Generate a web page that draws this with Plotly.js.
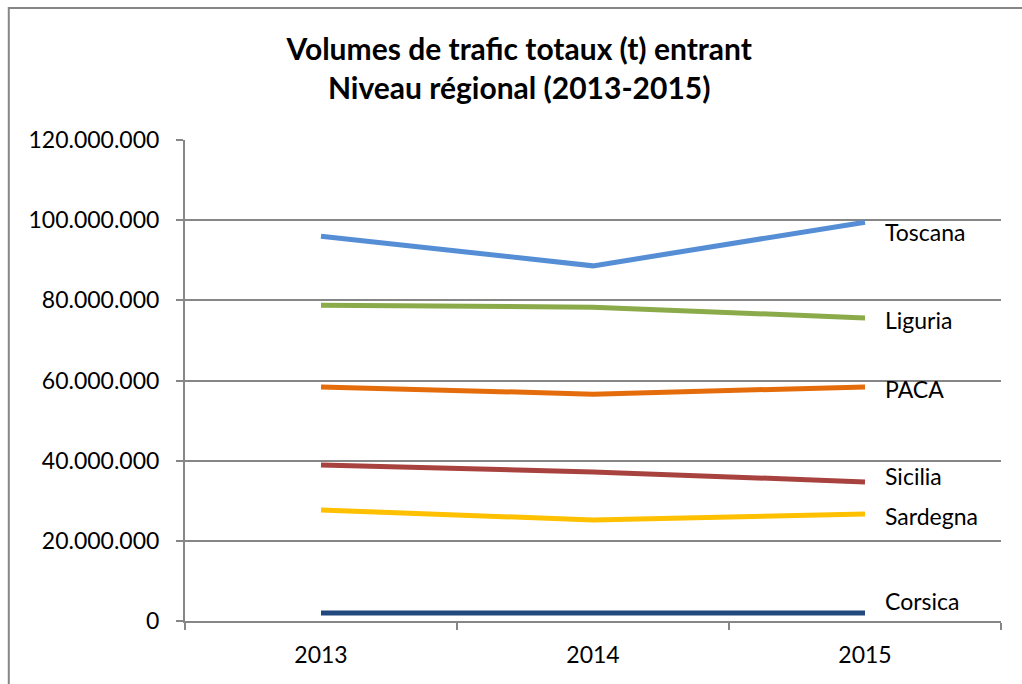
<!DOCTYPE html>
<html>
<head>
<meta charset="utf-8">
<script src="https://cdn.plot.ly/plotly-3.0.1.min.js"></script>
<style>
html,body{margin:0;padding:0;background:#fff;}
#chart{width:1022px;height:684px;}
</style>
</head>
<body>
<div id="chart"></div>
<script>
const years = ["2013", "2014", "2015"];
const regions = ["Toscana", "Liguria", "PACA", "Sicilia", "Sardegna", "Corsica"];
const toscana  = [96000000, 88600000, 99500000];
const liguria  = [78800000, 78300000, 75600000];
const paca     = [58400000, 56600000, 58400000];
const sicilia  = [38900000, 37200000, 34700000];
const sardegna = [27700000, 25200000, 26700000];
const corsica  = [2000000, 2000000, 2000000];
const yTicks = [0, 20000000, 40000000, 60000000, 80000000, 100000000, 120000000];
const yTickText = ["0", "20.000.000", "40.000.000", "60.000.000", "80.000.000", "100.000.000", "120.000.000"];

const seriesValues = [toscana, liguria, paca, sicilia, sardegna, corsica];
const colors = ["#558ED5", "#8BAA4A", "#E46C0A", "#A7423F", "#FFC000", "#21497D"];
const labelShift = [-10, -2, -2, 6, -2, 12];

const font = "Lato, 'Open Sans', 'Liberation Sans', sans-serif";

const traces = seriesValues.map((v, i) => ({
  x: years, y: v, type: "scatter", mode: "lines", name: regions[i],
  line: {color: colors[i], width: 5}, hoverinfo: "skip"
}));

const annotations = seriesValues.map((v, i) => ({
  x: years.length - 1, y: v[v.length - 1], xref: "x", yref: "y",
  text: regions[i], showarrow: false, xanchor: "left", yanchor: "middle",
  xshift: 18, yshift: labelShift[i],
  font: {family: font, size: 23, color: "#000"}
}));

const layout = {
  width: 1022, height: 684,
  margin: {l: 185, r: 21, t: 140, b: 63},
  paper_bgcolor: "#fff", plot_bgcolor: "#fff",
  showlegend: false,
  title: {
    text: "<b>Volumes de trafic totaux (t) entrant<br>Niveau régional (2013-2015)</b>",
    x: 0.508, xref: "container", xanchor: "center",
    y: 0.912, yref: "container", yanchor: "middle",
    font: {family: font, size: 30, color: "#000"}
  },
  xaxis: {
    type: "category", range: [-0.5, 2.5],
    tickson: "boundaries", ticks: "outside", ticklen: 7, tickcolor: "#868686", tickwidth: 2,
    showline: true, linecolor: "#868686", linewidth: 2,
    showgrid: false, zeroline: false, ticklabelstandoff: 12,
    tickfont: {family: font, size: 23, color: "#000"}
  },
  yaxis: {
    range: [0, 120000000],
    tickmode: "array", tickvals: yTicks, ticktext: yTickText,
    ticks: "outside", ticklen: 7, tickcolor: "#868686", tickwidth: 2,
    showline: true, linecolor: "#868686", linewidth: 2,
    showgrid: true, gridcolor: "#868686", gridwidth: 2, zeroline: false,
    ticklabelstandoff: 12,
    tickfont: {family: font, size: 23, color: "#000"}
  },
  annotations: annotations,
  shapes: [{
    type: "rect", xref: "paper", yref: "paper",
    x0: -176/815, x1: 845/815, y0: -69/481, y1: 613/481,
    line: {color: "#868686", width: 2}, fillcolor: "rgba(0,0,0,0)", layer: "below"
  }]
};

Plotly.newPlot("chart", traces, layout, {displayModeBar: false, staticPlot: true});
</script>
</body>
</html>
